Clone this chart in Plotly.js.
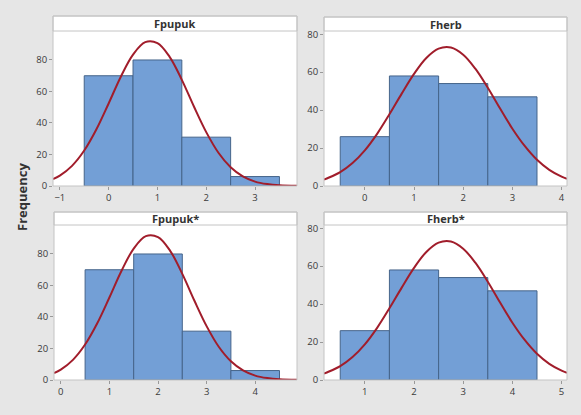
<!DOCTYPE html>
<html><head><meta charset="utf-8">
<script src="https://cdn.plot.ly/plotly-3.0.1.min.js"></script>
<style>html,body{margin:0;padding:0;background:#e6e6e6;}#chart{width:581px;height:415px;}</style>
</head><body><div id="chart"></div>
<script>
// Panel titles
const panelTitles = ["Fpupuk", "Fherb", "Fpupuk*", "Fherb*"];
// Histogram bins (centers) and frequencies
const binsFpupuk = [0, 1, 2, 3];
const freqFpupuk = [70, 80, 31, 6];
const binsFherb = [0, 1, 2, 3];
const freqFherb = [26, 58, 54, 47];
const binsFpupukS = [1, 2, 3, 4];
const freqFpupukS = [70, 80, 31, 6];
const binsFherbS = [1, 2, 3, 4];
const freqFherbS = [26, 58, 54, 47];
// Fitted normal curves
const curveXFpupuk = [-1.14, -1, -0.75, -0.5, -0.25, 0, 0.25, 0.5, 0.75, 1, 1.25, 1.5, 1.75, 2, 2.25, 2.5, 2.75, 3, 3.25, 3.5, 3.86];
const curveYFpupuk = [4.4, 6.6, 12.8, 22.5, 36.0, 52.4, 69.4, 83.4, 91.3, 90.7, 82.0, 67.4, 50.3, 34.2, 21.1, 11.9, 6.1, 2.8, 1.2, 0.45, 0.1];
const curveXFherb = [-0.83, -0.75, -0.5, -0.25, 0, 0.25, 0.5, 0.75, 1, 1.25, 1.5, 1.75, 2, 2.25, 2.5, 2.75, 3, 3.25, 3.5, 3.75, 4, 4.11];
const curveYFherb = [3.4, 4.2, 7.3, 12.1, 18.8, 27.5, 37.8, 48.7, 59.1, 67.5, 72.4, 73.0, 69.2, 61.7, 51.8, 40.8, 30.2, 21.1, 13.8, 8.5, 4.9, 3.8];
const curveXFpupukS = [-0.14, 0, 0.25, 0.5, 0.75, 1, 1.25, 1.5, 1.75, 2, 2.25, 2.5, 2.75, 3, 3.25, 3.5, 3.75, 4, 4.25, 4.5, 4.86];
const curveYFpupukS = [4.4, 6.6, 12.8, 22.5, 36.0, 52.4, 69.4, 83.4, 91.3, 90.7, 82.0, 67.4, 50.3, 34.2, 21.1, 11.9, 6.1, 2.8, 1.2, 0.45, 0.1];
const curveXFherbS = [0.17, 0.25, 0.5, 0.75, 1, 1.25, 1.5, 1.75, 2, 2.25, 2.5, 2.75, 3, 3.25, 3.5, 3.75, 4, 4.25, 4.5, 4.75, 5, 5.11];
const curveYFherbS = [3.4, 4.2, 7.3, 12.1, 18.8, 27.5, 37.8, 48.7, 59.1, 67.5, 72.4, 73.0, 69.2, 61.7, 51.8, 40.8, 30.2, 21.1, 13.8, 8.5, 4.9, 3.8];
// Axis ranges and ticks
const xRanges = [[-1.14, 3.86], [-0.83, 4.11], [-0.14, 4.86], [0.17, 5.11]];
const yRanges = [[0, 98.4], [0, 81.7], [0, 98.4], [0, 81.7]];
const yTicks = [0, 20, 40, 60, 80];
const yLabel = "Frequency";

const W = 581, H = 415;
const px = v => v / W, py = v => 1 - v / H;
// panel geometry in pixels: [x0, x1, stripTop, plotTop, plotBottom]
const geom = [[53, 297, 16, 31, 186], [324, 567, 17, 31, 186], [54, 297, 212, 225, 380], [324, 567, 212, 225, 380]];

const barColor = "#739fd6", barLine = "#45648a", curveColor = "#a11d2b";
const bins = [binsFpupuk, binsFherb, binsFpupukS, binsFherbS];
const freqs = [freqFpupuk, freqFherb, freqFpupukS, freqFherbS];
const cx = [curveXFpupuk, curveXFherb, curveXFpupukS, curveXFherbS];
const cy = [curveYFpupuk, curveYFherb, curveYFpupukS, curveYFherbS];

const traces = [];
const layout = {
  width: W, height: H, margin: {l: 0, r: 0, t: 0, b: 0},
  paper_bgcolor: "#e6e6e6", plot_bgcolor: "#ffffff",
  showlegend: false,
  font: {family: "Open Sans, Noto Sans, sans-serif", size: 9, color: "#3a3a3a"},
  shapes: [], annotations: []
};
for (let i = 0; i < 4; i++) {
  const n = i === 0 ? "" : String(i + 1);
  const g = geom[i];
  traces.push({type: "bar", x: bins[i], y: freqs[i], width: 1, xaxis: "x" + n, yaxis: "y" + n,
    marker: {color: barColor, line: {color: barLine, width: 1}}, hoverinfo: "x+y"});
  traces.push({type: "scatter", mode: "lines", x: cx[i], y: cy[i], xaxis: "x" + n, yaxis: "y" + n,
    line: {color: curveColor, width: 2, shape: "spline", smoothing: 1}});
  layout["xaxis" + n] = {domain: [px(g[0]), px(g[1])], anchor: "y" + n, range: xRanges[i],
    dtick: 1, tick0: 0, ticks: "outside", ticklen: 3, tickcolor: "#999", showgrid: false, zeroline: false,
    showline: false, tickfont: {size: 9.5, color: "#3a3a3a"}, fixedrange: true};
  layout["yaxis" + n] = {domain: [py(g[4]), py(g[3])], anchor: "x" + n, range: yRanges[i],
    tickvals: yTicks, ticks: "outside", ticklen: 3, tickcolor: "#999", showgrid: false, zeroline: false,
    showline: false, tickfont: {size: 9.5, color: "#3a3a3a"}, fixedrange: true};
  // strip
  layout.shapes.push({type: "rect", xref: "paper", yref: "paper", x0: px(g[0]), x1: px(g[1]),
    y0: py(g[3]), y1: py(g[2]), fillcolor: "#ffffff", line: {color: "#c4c4c4", width: 1}, layer: "below"});
  // frame
  layout.shapes.push({type: "rect", xref: "paper", yref: "paper", x0: px(g[0]), x1: px(g[1]),
    y0: py(g[4]), y1: py(g[2]), fillcolor: "rgba(0,0,0,0)", line: {color: "#c4c4c4", width: 1}, layer: "above"});
  layout.annotations.push({xref: "paper", yref: "paper", x: (px(g[0]) + px(g[1])) / 2, y: (py(g[2]) + py(g[3])) / 2,
    text: "<b>" + panelTitles[i] + "</b>", showarrow: false, xanchor: "center", yanchor: "middle",
    font: {size: 11, color: "#333"}});
}
layout.annotations.push({xref: "paper", yref: "paper", x: px(22), y: py(197), text: "<b>" + yLabel + "</b>",
  textangle: -90, showarrow: false, xanchor: "center", yanchor: "middle", font: {size: 13, color: "#333"}});

Plotly.newPlot("chart", traces, layout, {displayModeBar: false, staticPlot: true});
</script></body></html>
